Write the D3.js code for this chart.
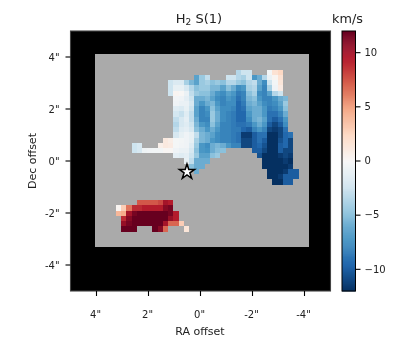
<!DOCTYPE html>
<html><head><meta charset="utf-8">
<script src="https://cdn.jsdelivr.net/npm/d3@7"></script>
<style>html,body{margin:0;padding:0;background:#fff}svg{display:block;transform:translateZ(0);will-change:transform}text{font-family:"DejaVu Sans";fill:#222}</style>
</head><body><svg id="c" width="400" height="350"></svg>
<script>
const N = null;
const cbStops = ['#053061','#2166ac','#4393c3','#92c5de','#d1e5f0','#f7f7f7','#fddbc7','#f4a582','#d6604d','#b2182b','#67001f'];
const xTicks = [4,2,0,-2,-4];
const yTicks = [4,2,0,-2,-4];
const cbTicks = [-10,-5,0,5,10];
const starPos = [0.52,-0.42];
const rowIndex = [3,4,5,6,7,8,9,10,11,12,13,14,15,16,17,18,19,20,21,22,23,24,28,29,30,31,32,33];
const rowStart = [27,19,14,14,14,15,15,15,15,15,15,15,15,13,7,7,15,17,18,19,33,34,8,4,4,5,5,5];
const r03=[-3.5,-2.5,-2.5,N,N,N,-0.3,1.8,2.5];
const r04=[-6.5,-4.5,-3,N,N,N,-2.5,-2.5,-3.5,-4,-2.5,-7,-6,-3.5,-0.8,0.3,1.8];
const r05=[-2.5,-1.8,-1.8,-4,-5.5,-6.5,-4.5,-4,-5,-4.5,-5,-3.5,-3.5,-4.5,-5,-3.5,-3,-6,-7.5,-2.5,-0.3,1.5];
const r06=[-2.5,-1,-1,-2,-3.5,-5,-4.5,-4.5,-5.5,-5.5,-6.5,-5,-6,-7.5,-7,-4,-3.5,-6.5,-8,-4,-0.5,1];
const r07=[-2.5,0.3,0.1,-0.8,-3,-4.5,-5,-5,-6,-7,-7.5,-6.5,-7,-8.5,-8,-5,-4,-7.5,-8,-6.5,-3.5,-2.5];
const r08=[-0.4,-0.5,-1.2,-2.5,-6,-6,-5.5,-6.5,-7.5,-8,-7,-7.5,-9,-8,-5.5,-5,-7,-8,-8,-7,-6,-5.5];
const r09=[-0.5,-0.8,-0.8,-2,-6,-7,-6,-5.5,-7,-8,-7.5,-7.5,-9.5,-8.5,-6,-5.5,-6.5,-7.5,-8,-7.5,-6.5,-4.5];
const r10=[-1.5,-1.8,-1,-2.5,-6.5,-8,-7,-5,-6.5,-7.5,-7.5,-8,-9.5,-9,-6.5,-6,-6,-7,-8.5,-8,-7,-5];
const r11=[-2.2,-2.8,-1.5,-3,-6.5,-8,-7.5,-4.5,-6,-7.5,-8,-8.5,-9.5,-9.5,-7,-6,-6,-7,-9,-9,-8,-6];
const r12=[-3,-2,-1.2,-3,-6,-8,-8,-4.5,-6,-7.5,-8,-8.5,-9.5,-9.5,-7.5,-6,-5.5,-6.5,-9,-10,-9,-7];
const r13=[-3.5,-2,-1.5,-2.5,-5.5,-7,-7.5,-5,-6.5,-8,-8,-8.5,-9,-9,-8.5,-7,-6,-7,-10,-11,-10,-7.5];
const r14=[-3,-1.5,-1.2,-2,-5,-6,-7,-6,-7,-8,-8,-8.5,-8.5,-9.5,-10,-8,-7,-8,-11,-11.5,-11,-9];
const r15=[-2,-1,-0.5,-1,-3,-5.5,-6,-6.5,-7.5,-8,-8,-8.5,-9,-11.5,-11.5,-10,-9,-9,-12,-12,-11,-9.5,-9];
const r16=[1.2,0.8,-0.2,-0.3,-0.5,-1,-4,-5.5,-6,-7,-7.5,-8,-8,-8.5,-9,-11,-11,-10,-9,-10,-12,-12,-10.5,-9.5,-11];
const r17=[-2.5,-2,N,N,N,0.7,1.2,1,-0.2,-0.4,-0.5,-1.5,-4.5,-7,-7.5,-6,-5.5,-6,-7,-8,-8,-11,-11,-10,-9.5,-10.5,-12,-12,-10,-9.5,-11];
const r18=[-2.5,-2,-0.6,-0.4,-0.3,-0.3,0.2,0.2,-0.5,-0.8,-0.8,-2,-5,-7,-7.2,-6,-5.2,-5,N,N,N,N,N,-10,-10,-11,-12,-12,-10,-11,-11];
const r19=[-1.2,-1.5,-1.2,-2.5,-4.5,-6.5,-6.5,-5,-4.5,N,N,N,N,N,N,N,-10.5,-12,-12,-12,-11.5,-11,-11.5];
const r20=[-1,-3,-6,-6,-6,N,N,N,N,N,N,N,N,N,N,-12,-12,-12,-12,-11.5,-12];
const r21=[-5,-6,-6,N,N,N,N,N,N,N,N,N,N,N,-12,-12,-12,-12,-12,-11.5];
const r22=[-6,N,N,N,N,N,N,N,N,N,N,N,N,N,-12,-12,-12,-11.5,-10,-10];
const r23=[-12,-12,-11.5,-10,-10,-10];
const r24=[-12,-12,-10,-10];
const r28=[7.5,7.5,7.5,7.5,8,10,9.5];
const r29=[0.3,3,6.5,9,9,9.5,9.5,9.5,9.5,11,11.5];
const r30=[4,4.5,10,11.5,12,12,12,12,12,12,11.5,9.5];
const r31=[9,11,12,12,12,12,12,12,12,10.5,9.5];
const r32=[10.5,11.5,12,12,12,12,12,12,10,7,7,3];
const r33=[12,12,12,N,N,N,12,11,7,N,N,N,1.5];
const rows = [r03,r04,r05,r06,r07,r08,r09,r10,r11,r12,r13,r14,r15,r16,r17,r18,r19,r20,r21,r22,r23,r24,r28,r29,r30,r31,r32,r33];

const imgCols = 41, imgRows = 37;
const imgLeft = 4.058, imgTop = 4.115, cell = 0.2008;

const svg = d3.select('#c');
const x = d3.scaleLinear().domain([5,-5]).range([70.5,330.5]);
const y = d3.scaleLinear().domain([5,-5]).range([31,291]);
const color = d3.scaleLinear().domain(cbStops.map((_,i)=>-12+i*2.4)).range(cbStops).clamp(true);
const cb = d3.scaleLinear().domain([-12,12]).range([291,31]);

svg.append('rect').attr('x',x(5)).attr('y',y(5)).attr('width',x(-5)-x(5)).attr('height',y(-5)-y(5)).attr('fill','#000');
const cx = i => Math.round(x(imgLeft - i*cell));
const cy = j => Math.round(y(imgTop - j*cell));
svg.append('rect').attr('x',cx(0)).attr('y',cy(0)).attr('width',cx(imgCols)-cx(0)).attr('height',cy(imgRows)-cy(0)).attr('fill','#aaaaaa');

const cells = rows.flatMap((r,k)=>r.map((v,i)=>({i:rowStart[k]+i,j:rowIndex[k],v}))).filter(d=>d.v!==null);
svg.append('g').attr('shape-rendering','crispEdges').selectAll('rect').data(cells).join('rect')
  .attr('x',d=>cx(d.i)).attr('y',d=>cy(d.j))
  .attr('width',d=>cx(d.i+1)-cx(d.i)).attr('height',d=>cy(d.j+1)-cy(d.j))
  .attr('fill',d=>color(d.v));

svg.append('path').attr('d',d3.symbol(d3.symbolStar,72)())
  .attr('transform',`translate(${x(starPos[0])},${y(starPos[1])})`)
  .attr('fill','#fff').attr('stroke','#000').attr('stroke-width',1.5);

svg.append('rect').attr('x',x(5)).attr('y',y(5)).attr('width',x(-5)-x(5)).attr('height',y(-5)-y(5))
  .attr('fill','none').attr('stroke','#444').attr('stroke-width',1.1);

function style(g){
  g.select('.domain').remove();
  g.selectAll('.tick line').attr('stroke','#000').attr('stroke-width',1.1);
  g.selectAll('.tick text').attr('font-size',10).attr('font-family','DejaVu Sans').attr('fill','#222');
}
const quote = d => d + '"';
svg.append('g').attr('transform',`translate(0,${y(-5)})`)
  .call(d3.axisBottom(x).offset(0).tickValues(xTicks).tickFormat(quote).tickSize(5).tickPadding(15)).call(style)
  .selectAll('.tick text').attr('dx',-1);
svg.append('g').attr('transform',`translate(${x(5)},0)`)
  .call(d3.axisLeft(y).offset(0).tickValues(yTicks).tickFormat(quote).tickSize(5).tickPadding(6)).call(style)
  .selectAll('.tick text').attr('dy','0.42em');

const cbX = 342, cbW = 13.5;
const levels = d3.range(256).map(i=>-12+i*24/256);
svg.append('g').selectAll('rect').data(levels).join('rect')
  .attr('x',cbX).attr('width',cbW).attr('y',d=>cb(d+24/256)).attr('height',d=>cb(d)-cb(d+24/256)+0.5)
  .attr('fill',d=>color(d+12/256));
svg.append('rect').attr('x',cbX).attr('y',31).attr('width',cbW).attr('height',260)
  .attr('fill','none').attr('stroke','#000').attr('stroke-width',1);
svg.append('g').attr('transform',`translate(${cbX+cbW},0)`)
  .call(d3.axisRight(cb).offset(0).tickValues(cbTicks).tickFormat(d=>String(d).replace('-','\u2212')).tickSize(5).tickPadding(4)).call(style);

const title = svg.append('text').attr('x',199).attr('y',23).attr('text-anchor','middle').attr('font-size',13);
title.append('tspan').text('H');
title.append('tspan').attr('font-size',9).attr('dy',2).text('2');
title.append('tspan').attr('dy',-2).text(' S(1)');
svg.append('text').attr('x',347.5).attr('y',23).attr('text-anchor','middle').attr('font-size',12.8).text('km/s');
svg.append('text').attr('x',200).attr('y',335).attr('text-anchor','middle').attr('font-size',11).text('RA offset');
svg.append('text').attr('transform','translate(36,161) rotate(-90)').attr('text-anchor','middle').attr('font-size',11).text('Dec offset');
</script></body></html>
